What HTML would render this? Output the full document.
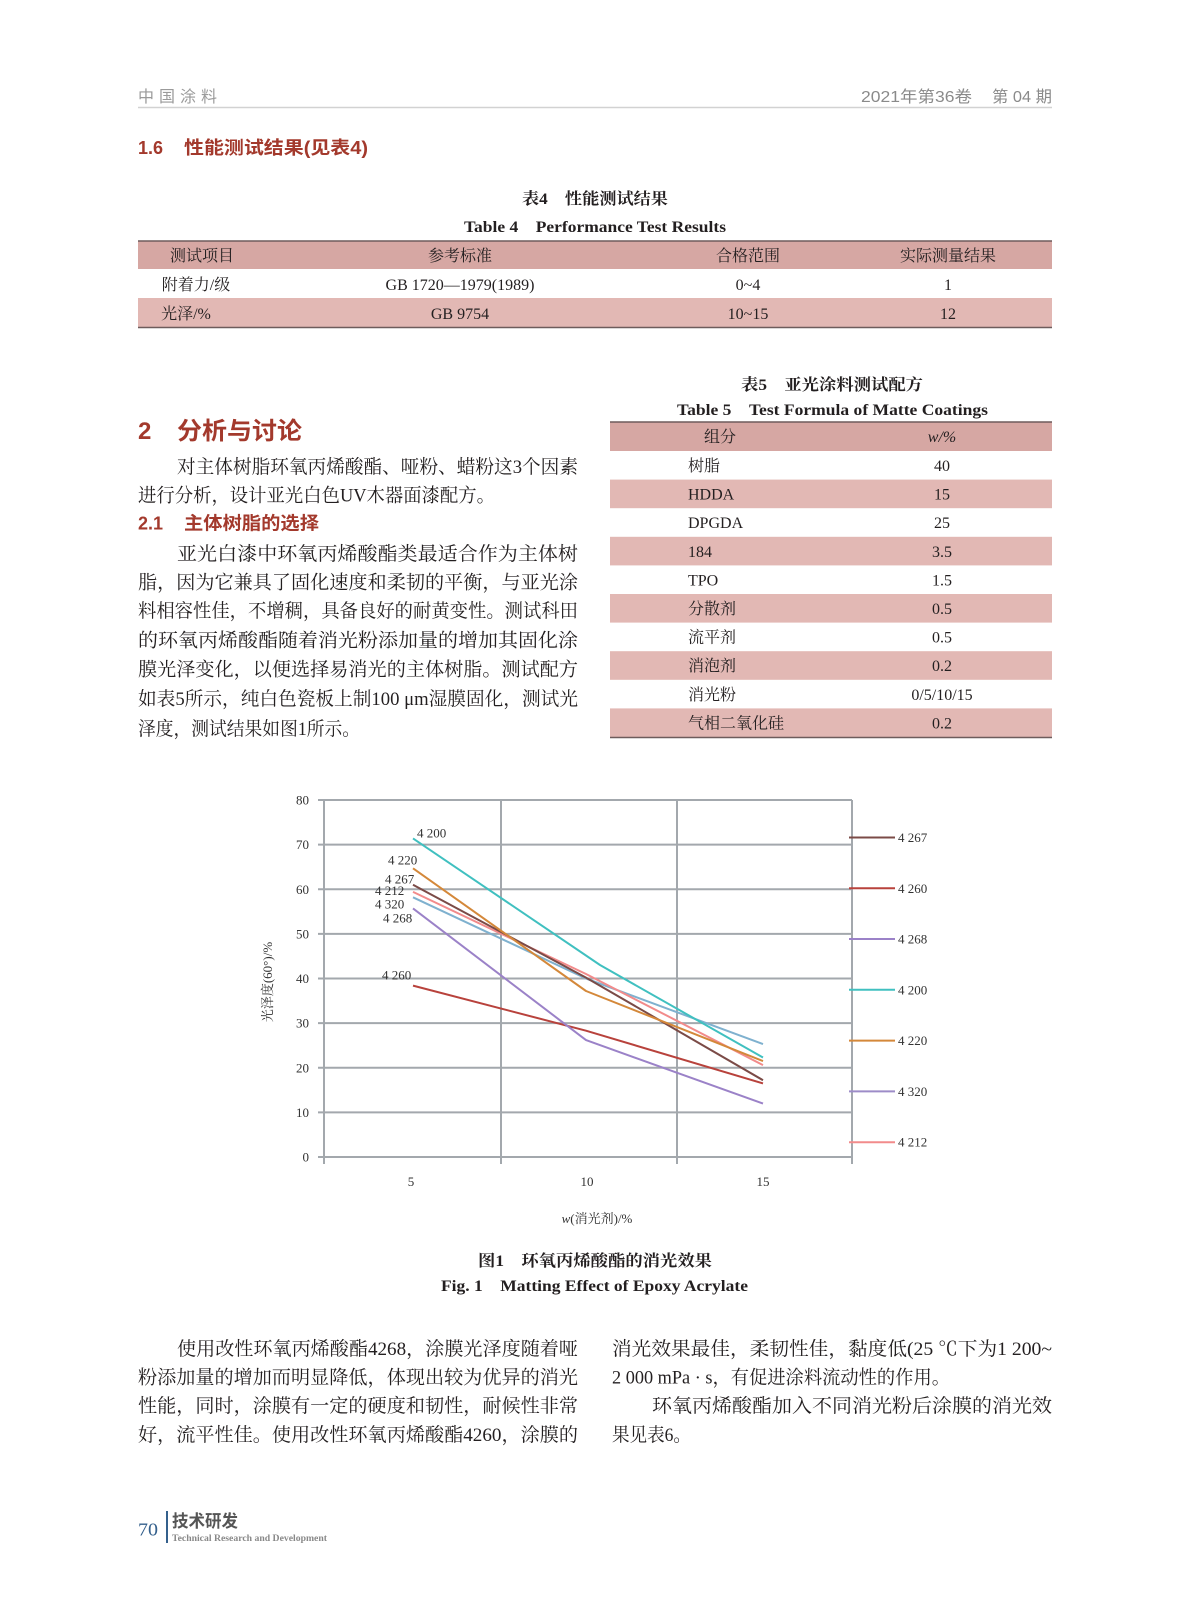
<!DOCTYPE html>
<html><head><meta charset="utf-8"><style>
html,body{margin:0;padding:0;background:#fff;}
svg{display:block;}
.b{font-family:"Liberation Serif","Noto Serif CJK SC",serif;font-size:19px;fill:#231f20;}
.t{font-family:"Liberation Serif","Noto Serif CJK SC",serif;font-size:16px;fill:#231f20;}
.tb{font-family:"Liberation Serif","Noto Serif CJK SC",serif;font-size:16px;font-weight:bold;fill:#231f20;}
.h{font-family:"Liberation Sans","Noto Sans CJK SC",sans-serif;font-weight:bold;fill:#a3392c;}
.c{font-family:"Liberation Serif","Noto Serif CJK SC",serif;font-size:13px;fill:#333;}
</style></head><body>
<svg width="1187" height="1600" viewBox="0 0 1187 1600" xmlns="http://www.w3.org/2000/svg">
<rect width="1187" height="1600" fill="#fff"/>
<!-- header -->
<text x="138" y="102" font-family="Liberation Sans,Noto Sans CJK SC,sans-serif" font-size="16" fill="#9a9a9a" textLength="79" lengthAdjust="spacing">中国涂料</text>
<text x="861" y="102" font-family="Liberation Sans,Noto Sans CJK SC,sans-serif" font-size="16" fill="#8a8a8a" textLength="111" lengthAdjust="spacingAndGlyphs">2021年第36卷</text>
<text x="992" y="102" font-family="Liberation Sans,Noto Sans CJK SC,sans-serif" font-size="16" fill="#8a8a8a" textLength="60" lengthAdjust="spacingAndGlyphs">第 04 期</text>
<line x1="138" y1="107.5" x2="1052" y2="107.5" stroke="#d2d2d2" stroke-width="1.5"/>

<text x="138" y="154" class="h" font-size="18">1.6</text>
<text x="184" y="154" class="h" font-size="18" textLength="184" lengthAdjust="spacingAndGlyphs">性能测试结果(见表4)</text>

<!-- table 4 -->
<text x="522" y="204" class="tb" textLength="146" lengthAdjust="spacingAndGlyphs">表4　性能测试结果</text>
<text x="464" y="232" class="tb" textLength="262" lengthAdjust="spacingAndGlyphs">Table 4　Performance Test Results</text>
<rect x="138" y="241" width="914" height="28" fill="#d6a7a3"/>
<rect x="138" y="298" width="914" height="29" fill="#e2b8b4"/>
<line x1="138" y1="241" x2="1052" y2="241" stroke="#6e5c5c" stroke-width="1.5"/>
<line x1="138" y1="327.5" x2="1052" y2="327.5" stroke="#6e5c5c" stroke-width="1.5"/>
<g class="t" text-anchor="middle">
<text x="202" y="261">测试项目</text><text x="460" y="261">参考标准</text><text x="748" y="261">合格范围</text><text x="948" y="261">实际测量结果</text>
<text x="196" y="290">附着力/级</text><text x="460" y="290">GB 1720—1979(1989)</text><text x="748" y="290">0~4</text><text x="948" y="290">1</text>
<text x="186" y="319">光泽/%</text><text x="460" y="319">GB 9754</text><text x="748" y="319">10~15</text><text x="948" y="319">12</text>
</g>

<!-- section 2 -->
<text x="138" y="439" class="h" font-size="24">2</text>
<text x="177" y="439" class="h" font-size="24" textLength="125" lengthAdjust="spacingAndGlyphs">分析与讨论</text>
<text x="177" y="473" class="b" textLength="401" lengthAdjust="spacingAndGlyphs">对主体树脂环氧丙烯酸酯、哑粉、蜡粉这3个因素</text>
<text x="138" y="501.5" class="b" textLength="357" lengthAdjust="spacingAndGlyphs">进行分析，设计亚光白色UV木器面漆配方。</text>
<text x="138" y="529.5" class="h" font-size="18">2.1</text>
<text x="184" y="529.5" class="h" font-size="18" textLength="135" lengthAdjust="spacingAndGlyphs">主体树脂的选择</text>
<text x="177" y="560" class="b" textLength="401" lengthAdjust="spacingAndGlyphs">亚光白漆中环氧丙烯酸酯类最适合作为主体树</text>
<text x="138" y="588.5" class="b" textLength="440" lengthAdjust="spacingAndGlyphs">脂，因为它兼具了固化速度和柔韧的平衡，与亚光涂</text>
<text x="138" y="617" class="b" textLength="440" lengthAdjust="spacingAndGlyphs">料相容性佳，不增稠，具备良好的耐黄变性。测试科田</text>
<text x="138" y="646.5" class="b" textLength="440" lengthAdjust="spacingAndGlyphs">的环氧丙烯酸酯随着消光粉添加量的增加其固化涂</text>
<text x="138" y="675.5" class="b" textLength="440" lengthAdjust="spacingAndGlyphs">膜光泽变化，以便选择易消光的主体树脂。测试配方</text>
<text x="138" y="705" class="b" textLength="440" lengthAdjust="spacingAndGlyphs">如表5所示，纯白色瓷板上制100 μm湿膜固化，测试光</text>
<text x="138" y="735" class="b" textLength="222" lengthAdjust="spacingAndGlyphs">泽度，测试结果如图1所示。</text>

<!-- table 5 -->
<text x="741" y="390" class="tb" textLength="182" lengthAdjust="spacingAndGlyphs">表5　亚光涂料测试配方</text>
<text x="677" y="415" class="tb" textLength="311" lengthAdjust="spacingAndGlyphs">Table 5　Test Formula of Matte Coatings</text>
<rect x="610" y="422" width="442" height="29" fill="#d6a7a3"/>
<rect x="610" y="479.6" width="442" height="28.6" fill="#e2b8b4"/>
<rect x="610" y="536.8" width="442" height="28.6" fill="#e2b8b4"/>
<rect x="610" y="594" width="442" height="28.6" fill="#e2b8b4"/>
<rect x="610" y="651.2" width="442" height="28.6" fill="#e2b8b4"/>
<rect x="610" y="708.4" width="442" height="28.6" fill="#e2b8b4"/>
<line x1="610" y1="422" x2="1052" y2="422" stroke="#6e5c5c" stroke-width="1.5"/>
<line x1="610" y1="737.5" x2="1052" y2="737.5" stroke="#6e5c5c" stroke-width="1.5"/>
<g class="t">
<text x="704" y="442">组分</text>
<text x="942" y="442" text-anchor="middle" font-style="italic">w/%</text>
<text x="688" y="471">树脂</text><text x="942" y="471" text-anchor="middle">40</text>
<text x="688" y="499.6">HDDA</text><text x="942" y="499.6" text-anchor="middle">15</text>
<text x="688" y="528.2">DPGDA</text><text x="942" y="528.2" text-anchor="middle">25</text>
<text x="688" y="556.8">184</text><text x="942" y="556.8" text-anchor="middle">3.5</text>
<text x="688" y="585.4">TPO</text><text x="942" y="585.4" text-anchor="middle">1.5</text>
<text x="688" y="614">分散剂</text><text x="942" y="614" text-anchor="middle">0.5</text>
<text x="688" y="642.6">流平剂</text><text x="942" y="642.6" text-anchor="middle">0.5</text>
<text x="688" y="671.2">消泡剂</text><text x="942" y="671.2" text-anchor="middle">0.2</text>
<text x="688" y="699.8">消光粉</text><text x="942" y="699.8" text-anchor="middle">0/5/10/15</text>
<text x="688" y="728.4">气相二氧化硅</text><text x="942" y="728.4" text-anchor="middle">0.2</text>
</g>

<!-- chart -->
<g stroke="#a3a8ad" stroke-width="2" fill="none">
<line x1="318" y1="800" x2="852" y2="800"/>
<line x1="318" y1="844.6" x2="852" y2="844.6"/>
<line x1="318" y1="889.3" x2="852" y2="889.3"/>
<line x1="318" y1="933.9" x2="852" y2="933.9"/>
<line x1="318" y1="978.5" x2="852" y2="978.5"/>
<line x1="318" y1="1023.1" x2="852" y2="1023.1"/>
<line x1="318" y1="1067.8" x2="852" y2="1067.8"/>
<line x1="318" y1="1112.4" x2="852" y2="1112.4"/>
<line x1="318" y1="1157" x2="852" y2="1157"/>
<line x1="324" y1="800" x2="324" y2="1164"/>
<line x1="501" y1="800" x2="501" y2="1164"/>
<line x1="677" y1="800" x2="677" y2="1164"/>
<line x1="852" y1="800" x2="852" y2="1164"/>
</g>
<g class="c" text-anchor="end">
<text x="309" y="804.5">80</text><text x="309" y="849">70</text><text x="309" y="893.8">60</text><text x="309" y="938.4">50</text><text x="309" y="983">40</text><text x="309" y="1027.6">30</text><text x="309" y="1072.3">20</text><text x="309" y="1116.9">10</text><text x="309" y="1161.5">0</text>
</g>
<g class="c" text-anchor="middle">
<text x="411" y="1186">5</text><text x="587" y="1186">10</text><text x="763" y="1186">15</text>
</g>
<text x="597" y="1223" class="c" font-size="14" text-anchor="middle"><tspan font-style="italic">w</tspan>(消光剂)/%</text>
<text transform="translate(272,982) rotate(-90)" class="c" font-size="14" text-anchor="middle">光泽度(60°)/%</text>

<g fill="none" stroke-width="2" stroke-linejoin="round">
<polyline points="413,985.6 586,1030.7 763,1083.4" stroke="#b8423c"/>
<polyline points="413,908.4 586,1040.1 763,1103.5" stroke="#9b82c8"/>
<polyline points="413,897.3 586,978.5 763,1044.1" stroke="#7fb1cf"/>
<polyline points="413,891.9 586,974 763,1065.1" stroke="#f28b8b"/>
<polyline points="413,884.8 586,977.6 763,1080.2" stroke="#7b4b47"/>
<polyline points="413,868.3 586,991 763,1061.1" stroke="#d4883a"/>
<polyline points="413,838.4 600,965 763,1057.5" stroke="#40c0c0"/>
</g>
<g class="c">
<text x="417" y="837.5">4 200</text>
<text x="388" y="864.5">4 220</text>
<text x="385" y="883.5">4 267</text>
<text x="375" y="895">4 212</text>
<text x="375" y="908.5">4 320</text>
<text x="383" y="922.5">4 268</text>
<text x="382" y="979.5">4 260</text>
</g>
<g stroke-width="2">
<line x1="849" y1="837.5" x2="895" y2="837.5" stroke="#7b4b47"/>
<line x1="849" y1="888.3" x2="895" y2="888.3" stroke="#b8423c"/>
<line x1="849" y1="939" x2="895" y2="939" stroke="#9b82c8"/>
<line x1="849" y1="989.8" x2="895" y2="989.8" stroke="#40c0c0"/>
<line x1="849" y1="1040.6" x2="895" y2="1040.6" stroke="#d4883a"/>
<line x1="849" y1="1091.4" x2="895" y2="1091.4" stroke="#9d8cc8"/>
<line x1="849" y1="1142.2" x2="895" y2="1142.2" stroke="#f28b8b"/>
</g>
<g class="c">
<text x="898" y="842">4 267</text>
<text x="898" y="892.8">4 260</text>
<text x="898" y="943.5">4 268</text>
<text x="898" y="994.3">4 200</text>
<text x="898" y="1045.1">4 220</text>
<text x="898" y="1095.9">4 320</text>
<text x="898" y="1146.7">4 212</text>
</g>

<text x="478" y="1266" class="tb" textLength="234" lengthAdjust="spacingAndGlyphs">图1　环氧丙烯酸酯的消光效果</text>
<text x="441" y="1291" class="tb" textLength="307" lengthAdjust="spacingAndGlyphs">Fig. 1　Matting Effect of Epoxy Acrylate</text>

<!-- bottom paragraphs -->
<text x="177" y="1355" class="b" textLength="401" lengthAdjust="spacingAndGlyphs">使用改性环氧丙烯酸酯4268，涂膜光泽度随着哑</text>
<text x="138" y="1383.5" class="b" textLength="440" lengthAdjust="spacingAndGlyphs">粉添加量的增加而明显降低，体现出较为优异的消光</text>
<text x="138" y="1412" class="b" textLength="440" lengthAdjust="spacingAndGlyphs">性能，同时，涂膜有一定的硬度和韧性，耐候性非常</text>
<text x="138" y="1441" class="b" textLength="440" lengthAdjust="spacingAndGlyphs">好，流平性佳。使用改性环氧丙烯酸酯4260，涂膜的</text>

<text x="612" y="1355" class="b" textLength="440" lengthAdjust="spacingAndGlyphs">消光效果最佳，柔韧性佳，黏度低(25 ℃下为1 200~</text>
<text x="612" y="1383.5" class="b" textLength="338" lengthAdjust="spacingAndGlyphs">2 000 mPa · s，有促进涂料流动性的作用。</text>
<text x="652" y="1412" class="b" textLength="400" lengthAdjust="spacingAndGlyphs">环氧丙烯酸酯加入不同消光粉后涂膜的消光效</text>
<text x="612" y="1441" class="b" textLength="79" lengthAdjust="spacingAndGlyphs">果见表6。</text>

<!-- footer -->
<text x="138" y="1535.5" font-family="Liberation Serif,serif" font-size="18" fill="#34608c" textLength="20" lengthAdjust="spacingAndGlyphs">70</text>
<line x1="167" y1="1511" x2="167" y2="1543" stroke="#34608c" stroke-width="2"/>
<text x="172" y="1527" font-family="Liberation Sans,Noto Sans CJK SC,sans-serif" font-size="17" font-weight="bold" fill="#555" textLength="66" lengthAdjust="spacingAndGlyphs">技术研发</text>
<text x="172" y="1541" font-family="Liberation Serif,serif" font-size="9" font-weight="bold" fill="#888" textLength="155" lengthAdjust="spacingAndGlyphs">Technical Research and Development</text>
</svg>
</body></html>
